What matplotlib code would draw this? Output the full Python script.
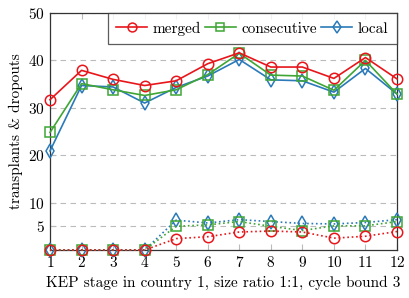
import numpy as np
import matplotlib.pyplot as plt

plt.rcParams['font.family'] = 'serif'
plt.rcParams['font.serif'] = ['cmr10']
plt.rcParams['mathtext.fontset'] = 'cm'
plt.rcParams['axes.formatter.use_mathtext'] = True

stages = np.arange(1, 13)

# transplants (solid lines)
merged = [31.7, 37.9, 36.0, 34.7, 35.7, 39.3, 41.6, 38.6, 38.6, 36.2, 40.6, 36.1]
consecutive = [24.8, 35.1, 33.8, 32.6, 33.8, 37.0, 41.5, 36.9, 36.7, 33.7, 40.0, 32.9]
local = [20.9, 34.7, 34.4, 31.0, 34.3, 36.7, 40.2, 35.9, 35.7, 33.3, 38.3, 32.9]

# dropouts (dotted lines)
merged_drop = [0, 0, 0, 0, 2.4, 2.8, 3.8, 4.0, 3.8, 2.5, 2.9, 3.9]
consecutive_drop = [0, 0, 0, 0, 5.0, 5.3, 6.0, 5.0, 4.1, 5.1, 5.1, 6.0]
local_drop = [0, 0, 0, 0, 6.3, 5.7, 6.4, 6.0, 5.6, 5.5, 5.8, 6.4]

red = '#e8161b'
green = '#3fa535'
blue = '#2a7ab9'

fig = plt.figure(figsize=(4.1, 2.98), dpi=100)
ax = fig.add_axes([50/410, 1-250/298, 347/410, 237/298])

ax.plot(stages, merged, color=red, marker='o', ms=7.5, mfc='none', mew=1.1, lw=1.2, label='merged', clip_on=False, zorder=5)
ax.plot(stages, consecutive, color=green, marker='s', ms=7.5, mfc='none', mew=1.1, lw=1.2, label='consecutive', clip_on=False, zorder=4)
ax.plot(stages, local, color=blue, marker='d', ms=7.5, mfc='none', mew=1.1, lw=1.2, label='local', clip_on=False, zorder=3)

ax.plot(stages, merged_drop, color=red, marker='o', ms=7.5, mfc='none', mew=1.1, lw=1.2, ls=':', clip_on=False, zorder=5)
ax.plot(stages, consecutive_drop, color=green, marker='s', ms=7.5, mfc='none', mew=1.1, lw=1.2, ls=':', clip_on=False, zorder=4)
ax.plot(stages, local_drop, color=blue, marker='d', ms=7.5, mfc='none', mew=1.1, lw=1.2, ls=':', clip_on=False, zorder=3)

ax.set_xlim(1, 12)
ax.set_ylim(0, 50)
ax.set_xticks(stages)
ax.set_yticks([5, 10, 20, 30, 40, 50])
ax.yaxis.grid(True, ls=(0, (5, 4)), color='#bbbbbb', lw=0.8)
ax.tick_params(direction='in', top=True, right=False, color='#bbbbbb', labelsize=11, length=4)
for s in ax.spines.values():
    s.set_color('#333333')
    s.set_linewidth(0.9)

ax.set_xlabel('KEP stage in country 1, size ratio 1:1, cycle bound 3', fontsize=11)
ax.set_ylabel('transplants & dropouts', fontsize=11)

leg = ax.legend(loc='upper right', ncol=3, fontsize=11, handlelength=2, handletextpad=0.4,
                columnspacing=0.25, borderaxespad=0, fancybox=False, edgecolor='#333333',
                borderpad=0.55, markerscale=0.85)
leg.get_frame().set_linewidth(0.9)

fig.savefig('out.png', dpi=100)
